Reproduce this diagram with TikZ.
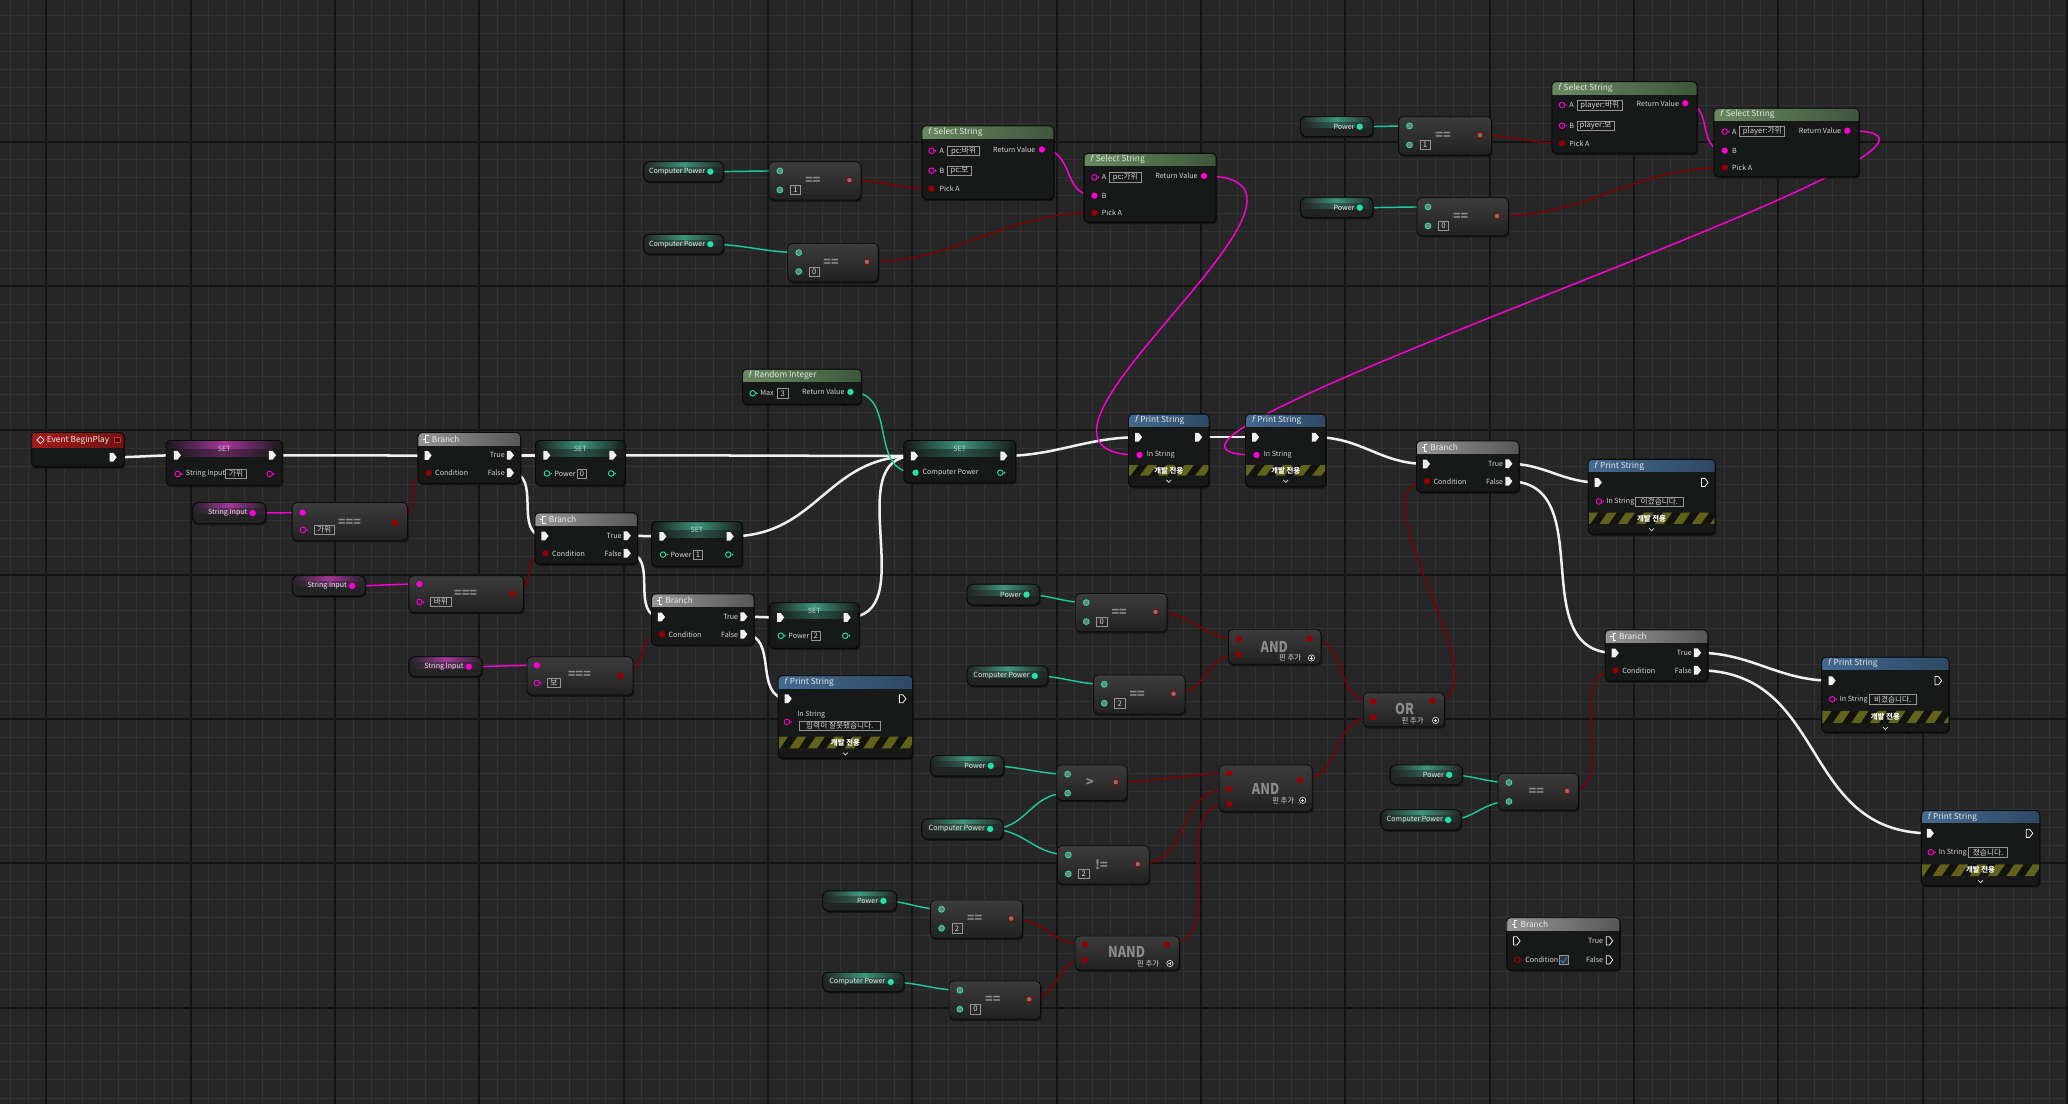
\documentclass[tikz,border=0pt]{standalone}
\usepackage{fontspec}
\usepackage{graphicx}
\setmainfont{Noto Sans CJK KR}[AutoFakeSlant=0.2]
\pgfdeclarelayer{gridl}
\pgfdeclarelayer{wirel}
\pgfsetlayers{gridl,wirel,main}
\definecolor{bgc}{RGB}{38,38,38}
\definecolor{gridfc}{RGB}{50,50,50}
\definecolor{gridmc}{RGB}{19,19,19}
\definecolor{nodebody}{RGB}{23,24,24}
\definecolor{nodeedge}{RGB}{10,10,10}
\definecolor{shadowc}{RGB}{18,18,18}
\definecolor{puretop}{RGB}{60,60,60}
\definecolor{purebot}{RGB}{33,33,33}
\definecolor{execc}{RGB}{240,240,240}
\definecolor{strc}{RGB}{255,0,212}
\definecolor{intc}{RGB}{32,226,170}
\definecolor{boolc}{RGB}{150,0,0}
\definecolor{intwc}{RGB}{30,200,155}
\definecolor{boolwc}{RGB}{128,0,0}
\definecolor{txt}{RGB}{215,215,215}
\definecolor{optxt}{RGB}{140,140,140}
\definecolor{pinmid}{RGB}{120,120,120}
\definecolor{litc}{RGB}{150,150,150}
\definecolor{fnL}{RGB}{104,138,96}
\definecolor{fnR}{RGB}{62,86,60}
\definecolor{psL}{RGB}{68,106,144}
\definecolor{psR}{RGB}{46,72,100}
\definecolor{brL}{RGB}{150,150,150}
\definecolor{brR}{RGB}{86,86,86}
\definecolor{evL}{RGB}{165,28,28}
\definecolor{evR}{RGB}{112,18,18}
\definecolor{glowint}{RGB}{62,150,124}
\definecolor{glowstr}{RGB}{165,55,155}
\definecolor{pillc}{RGB}{34,36,36}
\definecolor{hazy}{RGB}{98,98,26}
\definecolor{hazbg}{RGB}{18,18,14}
\definecolor{chkc}{RGB}{40,120,220}
\definecolor{evsq}{RGB}{225,40,40}
\newcounter{lbn}
\newcommand\UfL{\fontsize{5.4}{6}\selectfont}
\newcommand\UfH{\fontsize{6.3}{7}\selectfont}
\newcommand\UfT{\fontsize{5.8}{6.5}\selectfont}
\newcommand\UfK{\fontsize{5.6}{6}\selectfont}
\newcommand\UfO{\fontsize{9.5}{10}\selectfont\bfseries}
\newcommand\UfB{\fontsize{11.3}{12}\selectfont\bfseries}
\newcommand\Ulb[4][west]{\stepcounter{lbn}\node[lbl,anchor=#1] (lb\arabic{lbn}) at ({#2},{#3}) {#4};}
\newcommand\Ulit[4]{\stepcounter{lbn}\node[litbox,anchor=west,minimum width={(#2)-(#1)}] (lb\arabic{lbn}) at ({#1},{#3}) {#4};}
\newcommand\Uxpf[3]{\coordinate (#1) at ({#2},{#3});
  \fill[execc] ({#2-2.6},{#3-3.3}) -- ({#2+0.2},{#3-3.3}) -- ({#2+2.8},{#3}) -- ({#2+0.2},{#3+3.3}) -- ({#2-2.6},{#3+3.3}) -- cycle;}
\newcommand\Uxpo[3]{\coordinate (#1) at ({#2},{#3});
  \draw[execc,line width=0.6pt,line join=round] ({#2-2.4},{#3-3.1}) -- ({#2+0.2},{#3-3.1}) -- ({#2+2.6},{#3}) -- ({#2+0.2},{#3+3.1}) -- ({#2-2.4},{#3+3.1}) -- cycle;}
\newcommand\Udpf[4]{\coordinate (#1) at ({#2},{#3});\fill[#4] ({#2},{#3}) circle (2.4);}
\newcommand\Udpr[4]{\coordinate (#1) at ({#2},{#3});\fill[pinmid] ({#2},{#3}) circle (2.1);\draw[#4,line width=0.7pt] ({#2},{#3}) circle (2.2);}
\newcommand\Udpo[4]{\coordinate (#1) at ({#2},{#3});\draw[#4,line width=0.7pt] ({#2},{#3}) circle (2.1);\fill[#4] ({#2+2.7},{#3-1}) -- ({#2+3.9},{#3}) -- ({#2+2.7},{#3+1}) -- cycle;}
\newcommand\Ubox[6][bodybox]{%
  \fill[shadowc,opacity=0.8,rounded corners=3pt] ({#3+0.8},{#4+1.4}) rectangle ({#5+0.8},{#6+1.4});
  \node[#1,anchor=north west,minimum width={(#5)-(#3)},minimum height={(#6)-(#4)}] (#2) at ({#3},{#4}) {};}
\newcommand\Uhead[7]{%
  \begin{scope}
    \clip[rounded corners=3pt] (#1.north west) rectangle (#1.south east);
    \shade[left color=#6,right color=#7] ({#2},{#3}) rectangle ({#4},{#5});
  \end{scope}
  \draw[nodeedge,rounded corners=3pt,line width=0.6pt] (#1.north west) rectangle (#1.south east);}
\newcommand\Uglow[6]{%
  \begin{scope}
    \clip[rounded corners=3pt] (#1.north west) rectangle (#1.south east);
    \shade[left color=nodebody,right color=nodebody,middle color=#6] ({#2},{#3}) rectangle ({#4},{#3+7});
    \shade[left color=nodebody,right color=nodebody,middle color=#6!50!nodebody] ({#2},{#3+7}) rectangle ({#4},{#5});
  \end{scope}
  \draw[nodeedge,rounded corners=3pt,line width=0.6pt] (#1.north west) rectangle (#1.south east);}
\newcommand\Ugetter[8]{%
  \fill[shadowc,opacity=0.8,rounded corners=4.5pt] ({#2+0.8},{#3+1.4}) rectangle ({#4+0.8},{#5+1.4});
  \node[pillbox,anchor=north west,minimum width={(#4)-(#2)},minimum height={(#5)-(#3)}] (#1) at ({#2},{#3}) {};
  \begin{scope}
    \clip[rounded corners=4.5pt] ({#2},{#3}) rectangle ({#4},{#5});
    \shade[left color=pillc,right color=pillc,middle color=#7] ({#2},{#3}) rectangle ({#4},{#3+4.5});
    \shade[left color=pillc,right color=pillc,middle color=#7!50!pillc] ({#2},{#3+4.5}) rectangle ({#4},{#3+8.5});
  \end{scope}
  \draw[nodeedge,rounded corners=4.5pt,line width=0.6pt] ({#2},{#3}) rectangle ({#4},{#5});
  \pgfmathsetmacro\Ugy{(#3+#5)/2}
  \Udpf{#1-p}{#4-10}{\Ugy}{#8}
  \Ulb[east]{#4-14}{\Ugy}{\color{white!90!black}#6}}
\newcommand\Ufnt[3]{\Ulb{#1}{#2}{\UfH\color{white!90!black}\textit{f}\hspace{2.2pt}#3}}
\newcommand\Ubricon[2]{\draw[white,line width=0.55pt] ({#1-2.5},{#2}) -- ({#1-0.5},{#2}) ({#1+1.8},{#2-2.7}) -- ({#1-0.5},{#2-2.7}) -- ({#1-0.5},{#2+2.7}) -- ({#1+1.8},{#2+2.7});}
\newcommand\Ubranch[3]{%
  \pgfmathsetmacro\Ubxa{#2}\pgfmathsetmacro\Ubya{#3}%
  \pgfmathsetmacro\Ubxb{#2+77.7}\pgfmathsetmacro\Ubyb{#3+38.6}%
  \Ubox{#1}{\Ubxa}{\Ubya}{\Ubxb}{\Ubyb}
  \Uhead{#1}{\Ubxa}{\Ubya}{\Ubxb}{\Ubya+9.6}{brL}{brR}
  \Ubricon{\Ubxa+6.3}{\Ubya+4.9}
  \Ulb{\Ubxa+10.5}{\Ubya+4.9}{\UfH\color{white!92!black}Branch}
  \Uxpf{#1-i}{\Ubxa+7.5}{\Ubya+17.4}
  \Uxpf{#1-t}{\Ubxb-7.8}{\Ubya+17.2}
  \Ulb[east]{\Ubxb-12}{\Ubya+17.2}{True}
  \Udpf{#1-c}{\Ubxa+8}{\Ubya+30.5}{boolc}
  \Ulb{\Ubxa+13}{\Ubya+30.5}{Condition}
  \Uxpf{#1-f}{\Ubxb-7.8}{\Ubya+30.5}
  \Ulb[east]{\Ubxb-12}{\Ubya+30.5}{False}}
\newcommand\Uset[6]{%
  \Ubox{#1}{#2}{#3}{#4}{#5}
  \Uglow{#1}{#2}{#3}{#4}{#3+12}{#6}
  \Ulb[center]{(#2+#4)/2}{#3+6}{\color{white!80!black}SET}}
\newcommand\Usetpow[6]{%
  \Uset{#1}{#2}{#3}{#4}{#5}{glowint}
  \Uxpf{#1-i}{#2+8.5}{#3+11.2}
  \Uxpf{#1-o}{#4-9.3}{#3+11.2}
  \Udpo{#1-v}{#2+8.7}{#3+25}{intc}
  \Ulb{#2+14.5}{#3+25}{Power}
  \Ulit{#2+31.6}{#2+38.5}{#3+25}{#6}
  \Udpo{#1-w}{#4-10.6}{#3+25}{intc}}
\newcommand\Ucmp[7]{%
  \Ubox[purebox]{#1}{#2}{#3}{#4}{#5}
  \pgfmathsetmacro\Ucmy{(#3+#5)/2}
  \Udpr{#1-a}{#2+8.3}{#3+7}{intc}
  \Udpr{#1-b}{#2+8.3}{#3+21.4}{intc}
  \Udpr{#1-o}{#4-8.7}{\Ucmy-0.5}{boolc}
  \Ulb[center]{(#2+#4)/2-1.5}{\Ucmy}{\UfO\color{optxt}#6}
  \if\relax\detokenize{#7}\relax\else\Ulit{#2+16}{#2+23.7}{#3+21.4}{#7}\fi}
\newcommand\Uplus[2]{\draw[txt,line width=0.5pt] ({#1},{#2}) circle (2.4);\draw[txt,line width=0.5pt] ({#1-1.2},{#2}) -- ({#1+1.2},{#2}) ({#1},{#2-1.2}) -- ({#1},{#2+1.2});}
\newcommand\Uhazard[4]{%
  \begin{scope}
    \clip ({#1},{#3}) rectangle ({#2},{#4});
    \fill[hazbg] ({#1},{#3}) rectangle ({#2},{#4});
    \foreach \s in {0,...,9}{\fill[hazy] ({#1-6+\s*14},{#4}) -- ++(7,0) -- ++(6,{#3-#4}) -- ++(-7,0) -- cycle;}
  \end{scope}}
\newcommand\Uchev[2]{\draw[txt,line width=0.55pt] ({#1-1.8},{#2-0.9}) -- ({#1},{#2+0.9}) -- ({#1+1.8},{#2-0.9});}
\newcommand\Uhaz[4]{%
  \Uhazard{#1}{#2}{#3}{#4}
  \Ulb[center]{(#1+#2)/2}{(#3+#4)/2}{\UfK\bfseries\color{white}개발 전용}
  \Uchev{(#1+#2)/2}{#4+4.2}}
\newcommand\Upsbox[5]{%
  \Ubox{#1}{#2}{#3}{#4}{#5}
  \Uhead{#1}{#2}{#3}{#4}{#3+9.4}{psL}{psR}
  \Ufnt{#2+4.5}{#3+4.8}{Print String}}
\newcommand\Ulogic[5]{%
  \Ubox[purebox]{#1}{#2}{#3}{#4}{#5}}
\newcommand\Uwire[4]{\draw[#1] (#2) .. controls +(#4,0) and +(-#4,0) .. (#3);}
\begin{document}
\begin{tikzpicture}[x=1pt,y=-1pt,
  bodybox/.style={rectangle,rounded corners=3pt,fill=nodebody,draw=nodeedge,line width=0.6pt,inner sep=0pt,outer sep=0pt},
  purebox/.style={rectangle,rounded corners=3.5pt,top color=puretop,bottom color=purebot,draw=nodeedge,line width=0.6pt,inner sep=0pt,outer sep=0pt},
  pillbox/.style={rectangle,rounded corners=4.5pt,fill=pillc,draw=nodeedge,line width=0.6pt,inner sep=0pt,outer sep=0pt},
  lbl/.style={inner sep=0pt,outer sep=0pt,text=txt,font=\UfL},
  litbox/.style={draw=litc,line width=0.45pt,minimum height=7pt,inner sep=0.6pt,text=txt,font=\UfT},
  execw/.style={draw=execc,line width=1.9pt},
  strw/.style={draw=strc,line width=1.1pt},
  intw/.style={draw=intwc,line width=1.1pt},
  boolw/.style={draw=boolwc,line width=1.1pt},
  gridf/.style={draw=gridfc,line width=0.6pt},
  gridm/.style={draw=gridmc,line width=1.4pt}]
\useasboundingbox (0,0) rectangle (1568,837);
\begin{pgfonlayer}{gridl}
\fill[bgc] (0,0) rectangle (1568,837);
\foreach \i in {0,...,114}{\draw[gridf] ({7.74+13.68*\i},0) -- ({7.74+13.68*\i},837);}
\foreach \i in {0,...,61}{\draw[gridf] (0,{-2.04+13.68*\i}) -- (1568,{-2.04+13.68*\i});}
\foreach \i in {0,...,14}{\draw[gridm] ({35.1+109.44*\i},0) -- ({35.1+109.44*\i},837);}
\foreach \i in {1,...,7}{\draw[gridm] (0,{-2.04+109.44*\i}) -- (1568,{-2.04+109.44*\i});}
\end{pgfonlayer}
% Event BeginPlay
\Ubox{ev}{24}{328}{94}{354}
\Uhead{ev}{24}{328}{94}{339}{evL}{evR}
\draw[white,line width=0.5pt] (30.7,330.8) -- (33.4,333.6) -- (30.7,336.4) -- (28,333.6) -- cycle;
\Ulb{35.5}{333.6}{\UfH\color{white!92!black}Event BeginPlay}
\draw[evsq,fill=evR!60!black,line width=0.6pt] (86.8,331.3) rectangle (91.2,335.7);
\Uxpf{ev-o}{85.7}{346.7}
% SET String Input
\Uset{set1}{126}{334}{214}{368}{glowstr}
\Uxpf{set1-i}{134.4}{345.2}
\Uxpf{set1-o}{206.5}{345.2}
\Udpo{set1-v}{134.7}{359.4}{strc}
\Ulb{141}{359.4}{String Input}
\Ulit{170.8}{186.5}{359.4}{가위}
\Udpo{set1-w}{204.5}{359.4}{strc}
% Branches
\Ubranch{br1}{317}{328}
\Ubranch{br2}{405.6}{389}
\Ubranch{br3}{494}{450.4}
\Ubranch{br4}{1074}{334.4}
\Ubranch{br5}{1217.1}{477.7}
% SET Power
\Usetpow{setp0}{406}{334}{474}{368}{0}
\Usetpow{setp1}{494}{395.5}{562.8}{429.6}{1}
\Usetpow{setp2}{583.3}{457}{651.5}{491.5}{2}
% getters
\Ugetter{gs1}{146}{381}{201.6}{397}{String Input}{glowstr}{strc}
\Ugetter{gs2}{221.6}{436.5}{277}{452}{String Input}{glowstr}{strc}
\Ugetter{gs3}{310}{498}{365.5}{513}{String Input}{glowstr}{strc}
\Ugetter{cpg1}{488}{122.6}{548.6}{137.7}{Computer Power}{glowint}{intc}
\Ugetter{cpg2}{488}{177.7}{548.6}{192.6}{Computer Power}{glowint}{intc}
\Ugetter{pwg1}{986}{88.5}{1041}{103.6}{Power}{glowint}{intc}
\Ugetter{pwg2}{986}{149.9}{1041}{165}{Power}{glowint}{intc}
\Ugetter{pwa}{733.2}{443}{788.3}{458.7}{Power}{glowint}{intc}
\Ugetter{cpa}{733.2}{505}{794.6}{520}{Computer Power}{glowint}{intc}
\Ugetter{pwb}{705.6}{573}{761.2}{588.4}{Power}{glowint}{intc}
\Ugetter{cpb}{698.8}{621}{760.7}{636.1}{Computer Power}{glowint}{intc}
\Ugetter{pwc}{623.7}{675.5}{679.8}{690.7}{Power}{glowint}{intc}
\Ugetter{cpc}{623.7}{737.2}{685.4}{751.9}{Computer Power}{glowint}{intc}
\Ugetter{pwr}{1054}{580}{1108.8}{595}{Power}{glowint}{intc}
\Ugetter{cpr}{1047}{614}{1108}{629.3}{Computer Power}{glowint}{intc}
% === nodes
\Ubox[purebox]{eq1}{221.5}{381}{309}{410}
\Udpf{eq1-a}{229.5}{388.7}{strc}
\Udpo{eq1-b}{229.7}{401.8}{strc}
\Ulit{238}{253}{401.8}{가위}
\Ulb[center]{265}{396.3}{\UfO\color{optxt}===}
\Udpf{eq1-o}{299.5}{396.3}{boolc}
\Ubox[purebox]{eq2}{310}{436.5}{397}{464.5}
\Udpf{eq2-a}{318}{442.8}{strc}
\Udpo{eq2-b}{318}{456.4}{strc}
\Ulit{326}{342}{456.4}{바위}
\Ulb[center]{353}{450.4}{\UfO\color{optxt}===}
\Udpf{eq2-o}{388.3}{450.4}{boolc}
\Ubox[purebox]{eq3}{399.5}{498}{480}{527}
\Udpf{eq3-a}{407}{504.4}{strc}
\Udpo{eq3-b}{407}{517.8}{strc}
\Ulit{414.7}{424.7}{517.8}{보}
\Ulb[center]{439.4}{511.5}{\UfO\color{optxt}===}
\Udpf{eq3-o}{470.5}{512.3}{boolc}
% compare nodes
\Ucmp{cmp1}{583}{122.6}{652.8}{151.6}{==}{1}
\Ucmp{cmp2}{597.3}{184.5}{666}{213.6}{==}{0}
\Ucmp{cmp3}{1060.4}{88.5}{1130.9}{117.5}{==}{1}
\Ucmp{cmp4}{1074.4}{149.9}{1143.7}{178.7}{==}{0}
\Ucmp{cmpa}{815.3}{449.9}{884.8}{479}{==}{0}
\Ucmp{cmpb}{829}{511.8}{898.5}{541.3}{==}{2}
\Ucmp{gt}{801.2}{580}{854.7}{607}{>}{}
\Ucmp{ne}{801.7}{641.2}{871.4}{670.2}{!=}{2}
\Ucmp{cmpc}{705.6}{682.4}{775.4}{711.4}{==}{2}
\Ucmp{cmpd}{719.5}{743.8}{789}{772.6}{==}{0}
\Ucmp{cmp5}{1135.8}{586.3}{1196.9}{614.2}{==}{}
% Random Integer
\Ubox{rnd}{563}{280}{653}{306.5}
\Uhead{rnd}{563}{280}{653}{289.4}{fnL}{fnR}
\Ufnt{567.5}{284.7}{Random Integer}
\Udpo{rnd-m}{570.7}{298.2}{intc}
\Ulb{576.5}{298.2}{Max}
\Ulit{589}{597.5}{298.2}{3}
\Ulb[east]{640.3}{297.2}{Return Value}
\Udpf{rnd-r}{644.8}{297.2}{intc}
% SET Computer Power
\Uset{setcp}{685.4}{334}{770}{366}{glowint}
\Uxpf{setcp-i}{693.2}{345.7}
\Uxpf{setcp-o}{761}{345.7}
\Udpf{setcp-v}{694.2}{358.4}{intc}
\Ulb{699.5}{358.4}{Computer Power}
\Udpo{setcp-w}{758.5}{358.4}{intc}
% Select String nodes
\Ubox{ss1}{699}{95.5}{799}{151}
\Uhead{ss1}{699}{95.5}{799}{104.9}{fnL}{fnR}
\Ufnt{703.5}{100.2}{Select String}
\Udpo{ss1-a}{706.3}{114.3}{strc}
\Ulb{712.5}{114.3}{A}
\Ulit{718.3}{742.5}{114.3}{pc:바위}
\Udpo{ss1-b}{706.3}{129.4}{strc}
\Ulb{712.5}{129.4}{B}
\Ulit{718.3}{736.2}{129.4}{pc:보}
\Udpf{ss1-p}{706.3}{143}{boolc}
\Ulb{712.5}{143}{Pick A}
\Ulb[east]{785}{113.3}{Return Value}
\Udpf{ss1-r}{790}{113.3}{strc}
\Ubox{ss2}{822}{116.3}{922}{168.6}
\Uhead{ss2}{822}{116.3}{922}{125.6}{fnL}{fnR}
\Ufnt{826.5}{121}{Select String}
\Udpo{ss2-a}{829.8}{134.5}{strc}
\Ulb{835.5}{134.5}{A}
\Ulit{841}{865}{134.5}{pc:가위}
\Udpf{ss2-b}{829.8}{148.4}{strc}
\Ulb{835.5}{148.4}{B}
\Udpf{ss2-p}{829.8}{161.3}{boolc}
\Ulb{835.5}{161.3}{Pick A}
\Ulb[east]{908}{133.4}{Return Value}
\Udpf{ss2-r}{912.9}{133.4}{strc}
\Ubox{ss3}{1176.7}{61.9}{1286.7}{116.3}
\Uhead{ss3}{1176.7}{61.9}{1286.7}{71.3}{fnL}{fnR}
\Ufnt{1181.2}{66.6}{Select String}
\Udpo{ss3-a}{1184.3}{79.6}{strc}
\Ulb{1190}{79.6}{A}
\Ulit{1195.7}{1229.8}{79.6}{player:바위}
\Udpo{ss3-b}{1184.3}{95.3}{strc}
\Ulb{1190}{95.3}{B}
\Ulit{1195.7}{1223.5}{95.3}{player:보}
\Udpf{ss3-p}{1184.3}{108.7}{boolc}
\Ulb{1190}{108.7}{Pick A}
\Ulb[east]{1273}{78.3}{Return Value}
\Udpf{ss3-r}{1277.8}{78.3}{strc}
\Ubox{ss4}{1299.6}{82.1}{1409.5}{134}
\Uhead{ss4}{1299.6}{82.1}{1409.5}{91.5}{fnL}{fnR}
\Ufnt{1304.1}{86.8}{Select String}
\Udpo{ss4-a}{1307.7}{99.8}{strc}
\Ulb{1313.4}{99.8}{A}
\Ulit{1318.9}{1353}{99.8}{player:가위}
\Udpf{ss4-b}{1307.7}{114.2}{strc}
\Ulb{1313.4}{114.2}{B}
\Udpf{ss4-p}{1307.7}{127.1}{boolc}
\Ulb{1313.4}{127.1}{Pick A}
\Ulb[east]{1396}{99.1}{Return Value}
\Udpf{ss4-r}{1400.7}{99.1}{strc}
% Print String nodes
\Upsbox{ps1}{590}{512.3}{692}{575}
\Uxpf{ps1-i}{597.5}{529.8}
\Uxpo{ps1-o}{684.3}{529.8}
\Ulb{604.6}{542.2}{In String}
\Udpo{ps1-s}{596.7}{547.4}{strc}
\Ulit{606}{667}{550.3}{입력이 잘못됐습니다.}
\Uhaz{590.5}{691.5}{558.5}{567.4}
\Upsbox{ps2}{855.7}{314}{916.7}{369}
\Uxpf{ps2-i}{863.2}{331.5}
\Uxpf{ps2-o}{908.7}{331.5}
\Udpf{ps2-s}{864}{345}{strc}
\Ulb{869.5}{345}{In String}
\Uhaz{856.2}{916.2}{352.6}{360.6}
\Upsbox{ps3}{944.4}{314}{1005.3}{369}
\Uxpf{ps3-i}{951.9}{331.5}
\Uxpf{ps3-o}{997.3}{331.5}
\Udpf{ps3-s}{952.7}{345}{strc}
\Ulb{958.2}{345}{In String}
\Uhaz{944.9}{1004.8}{352.6}{360.6}
\Upsbox{ps4}{1204.2}{348.3}{1300.3}{404.9}
\Uxpf{ps4-i}{1211.7}{365.8}
\Uxpo{ps4-o}{1292.5}{365.8}
\Udpo{ps4-s}{1212.4}{380.2}{strc}
\Ulb{1218}{380.2}{In String}
\Ulit{1240}{1275.8}{380.2}{이겼습니다.}
\Uhaz{1204.7}{1299.8}{388.7}{397.3}
\Upsbox{ps5}{1381.3}{498.4}{1477.7}{555.2}
\Uxpf{ps5-i}{1389}{516.1}
\Uxpo{ps5-o}{1469.6}{516.1}
\Udpo{ps5-s}{1389.2}{530.2}{strc}
\Ulb{1395}{530.2}{In String}
\Ulit{1417}{1452.7}{530.2}{비겼습니다.}
\Uhaz{1381.8}{1477.2}{539}{548}
\Upsbox{ps6}{1456.8}{614.6}{1546.5}{671.5}
\Uxpf{ps6-i}{1463.5}{631.8}
\Uxpo{ps6-o}{1538.7}{631.8}
\Udpo{ps6-s}{1464}{646.2}{strc}
\Ulb{1470}{646.2}{In String}
\Ulit{1492.3}{1522}{646.2}{졌습니다.}
\Uhaz{1457.3}{1546}{655.3}{664.2}
% Logic nodes
\Ulogic{and1}{931.4}{477.1}{1001.6}{503.7}
\Udpf{and1-a}{939.2}{484.5}{boolc}
\Udpf{and1-b}{939.2}{496.1}{boolc}
\Udpf{and1-o}{992.9}{484.3}{boolc}
\Ulb[center]{966.2}{490.6}{\UfB\color{optxt}\scalebox{0.85}[1]{AND}}
\Ulb[center]{978.2}{498.9}{\UfK 핀 추가}
\Uplus{994.3}{498.9}
\Ulogic{or1}{1033.6}{525.2}{1095.2}{551}
\Udpf{or1-a}{1041.2}{532}{boolc}
\Udpf{or1-b}{1041.2}{543.9}{boolc}
\Udpf{or1-o}{1086.2}{531.3}{boolc}
\Ulb[center]{1065}{537.6}{\UfB\color{optxt}\scalebox{0.85}[1]{OR}}
\Ulb[center]{1071}{546.2}{\UfK 핀 추가}
\Uplus{1088.5}{546.2}
\Ulogic{and2}{924.2}{580}{995}{615.4}
\Udpf{and2-a}{932}{586.3}{boolc}
\Udpf{and2-b}{932}{598.2}{boolc}
\Udpf{and2-c}{932}{609.6}{boolc}
\Udpf{and2-o}{985.7}{591.4}{boolc}
\Ulb[center]{959.6}{598}{\UfB\color{optxt}\scalebox{0.85}[1]{AND}}
\Ulb[center]{973}{606.8}{\UfK 핀 추가}
\Uplus{987.7}{606.8}
\Ulogic{nand}{815}{709.7}{894.2}{735.4}
\Udpf{nand-a}{822.6}{716.2}{boolc}
\Udpf{nand-b}{822.6}{727.9}{boolc}
\Udpf{nand-o}{884.6}{716}{boolc}
\Ulb[center]{854.2}{722.1}{\UfB\color{optxt}\scalebox{0.85}[1]{NAND}}
\Ulb[center]{870.6}{730.6}{\UfK 핀 추가}
\Uplus{887}{730.6}
% standalone Branch
\Ubox{br6}{1142.4}{695.8}{1228.2}{735.5}
\Uhead{br6}{1142.4}{695.8}{1228.2}{705.6}{brL}{brR}
\Ubricon{1148.7}{700.7}
\Ulb{1152.9}{700.7}{\UfH\color{white!92!black}Branch}
\Uxpo{br6-i}{1150}{713.4}
\Ulb[east]{1215.5}{713.4}{True}
\Uxpo{br6-t}{1220.2}{713.4}
\Udpo{br6-c}{1150.4}{727.8}{boolc}
\Ulb{1156.5}{727.8}{Condition}
\draw[litc,fill=black!80,line width=0.45pt] (1182,724.6) rectangle (1189.2,731.2);
\draw[chkc,line width=0.8pt] (1183.4,728.2) -- (1185.1,729.9) -- (1188,725.9);
\Ulb[east]{1215.5}{727.8}{False}
\Uxpo{br6-f}{1220.2}{727.8}
% wires
\begin{pgfonlayer}{wirel}
\Uwire{execw}{ev-o}{set1-i}{16}
\Uwire{execw}{set1-o}{br1-i}{39}
\Uwire{execw}{br1-t}{setp0-i}{9}
\Uwire{execw}{br1-f}{br2-i}{25}
\Uwire{execw}{setp0-o}{setcp-i}{76}
\Uwire{execw}{br2-t}{setp1-i}{9}
\Uwire{execw}{br2-f}{br3-i}{25}
\Uwire{execw}{setp1-o}{setcp-i}{67}
\Uwire{execw}{br3-t}{setp2-i}{9}
\Uwire{execw}{br3-f}{ps1-i}{27}
\Uwire{execw}{setp2-o}{setcp-i}{58}
\Uwire{execw}{setcp-o}{ps2-i}{39}
\Uwire{execw}{ps2-o}{ps3-i}{14}
\Uwire{execw}{ps3-o}{br4-i}{35}
\Uwire{execw}{br4-t}{ps4-i}{27}
\Uwire{execw}{br4-f}{br5-i}{70}
\Uwire{execw}{br5-t}{ps5-i}{41}
\Uwire{execw}{br5-f}{ps6-i}{100}
\Uwire{strw}{gs1-p}{eq1-a}{13}
\Uwire{strw}{gs2-p}{eq2-a}{17}
\Uwire{strw}{gs3-p}{eq3-a}{17}
\Uwire{strw}{ss1-r}{ss2-b}{25}
\Uwire{strw}{ss2-r}{ps2-s}{130}
\Uwire{strw}{ss3-r}{ss4-b}{22}
\Uwire{strw}{ss4-r}{ps3-s}{170}
\Uwire{intw}{cpg1-p}{cmp1-a}{18}
\Uwire{intw}{cpg2-p}{cmp2-a}{24}
\Uwire{intw}{rnd-r}{setcp-v}{37}
\Uwire{intw}{pwg1-p}{cmp3-a}{13}
\Uwire{intw}{pwg2-p}{cmp4-a}{17}
\Uwire{intw}{pwa-p}{cmpa-a}{17}
\Uwire{intw}{cpa-p}{cmpb-a}{20}
\Uwire{intw}{pwb-p}{gt-a}{21}
\Uwire{intw}{cpb-p}{gt-b}{29}
\Uwire{intw}{cpb-p}{ne-a}{26}
\Uwire{intw}{pwc-p}{cmpc-a}{17}
\Uwire{intw}{cpc-p}{cmpd-a}{19}
\Uwire{intw}{pwr-p}{cmp5-a}{17}
\Uwire{intw}{cpr-p}{cmp5-b}{20}
\Uwire{boolw}{eq1-o}{br1-c}{21}
\Uwire{boolw}{eq2-o}{br2-c}{19}
\Uwire{boolw}{eq3-o}{br3-c}{21}
\Uwire{boolw}{cmp1-o}{ss1-p}{23}
\Uwire{boolw}{cmp2-o}{ss2-p}{70}
\Uwire{boolw}{cmp3-o}{ss3-p}{22}
\Uwire{boolw}{cmp4-o}{ss4-p}{70}
\Uwire{boolw}{cmpa-o}{and1-a}{28}
\Uwire{boolw}{cmpb-o}{and1-b}{26}
\Uwire{boolw}{and1-o}{or1-a}{32}
\Uwire{boolw}{and2-o}{or1-b}{34}
\Uwire{boolw}{or1-o}{br4-c}{60}
\Uwire{boolw}{cmp5-o}{br5-c}{43}
\Uwire{boolw}{gt-o}{and2-a}{31}
\Uwire{boolw}{ne-o}{and2-b}{42}
\Uwire{boolw}{nand-o}{and2-c}{51}
\Uwire{boolw}{cmpc-o}{nand-a}{25}
\Uwire{boolw}{cmpd-o}{nand-b}{24}
\end{pgfonlayer}
\end{tikzpicture}
\end{document}
